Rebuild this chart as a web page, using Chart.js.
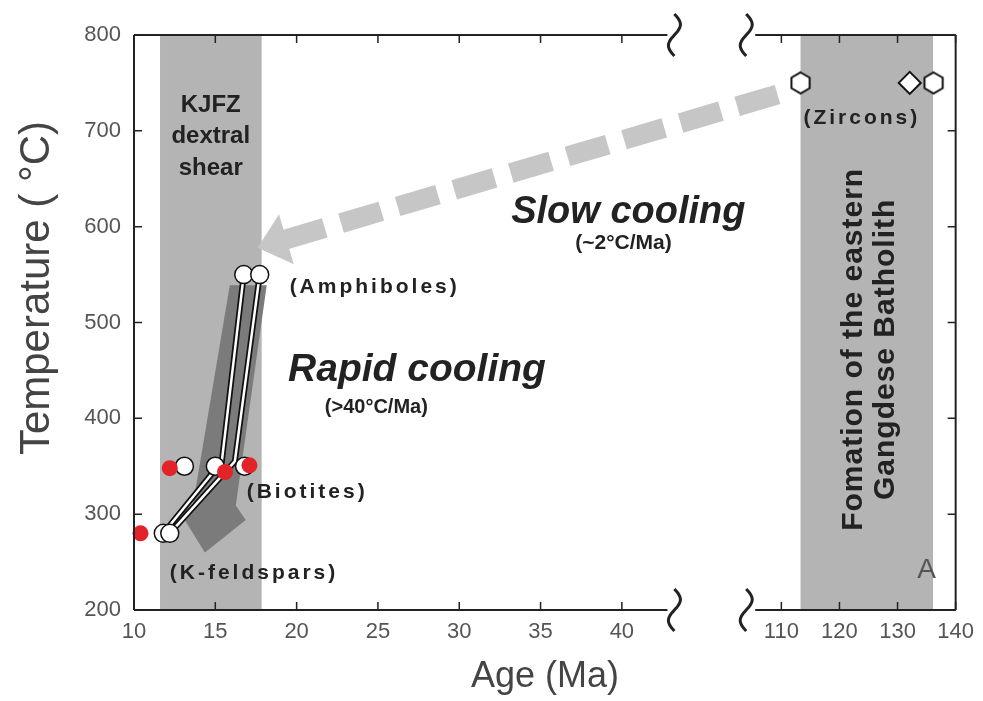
<!DOCTYPE html>
<html>
<head>
<meta charset="utf-8">
<script src="https://cdn.jsdelivr.net/npm/chart.js@4.4.1/dist/chart.umd.min.js"></script>
<style>
  html, body { margin: 0; padding: 0; background: #fff; }
  canvas { display: block; }
</style>
</head>
<body>
<canvas id="chart" width="983" height="701"></canvas>
<script>
// axis ticks
const yTicks = [200, 300, 400, 500, 600, 700, 800];
const xTicksLeft = [10, 15, 20, 25, 30, 35, 40];
const xTicksRight = [110, 120, 130, 140];

// broken age axis: left part 10..48.2, right part 105.5..140
const leftRange = [10, 48.2];
const rightRange = [105.5, 140];
const breakAge = 42.8;

// grey bands (Ma)
const kjfzBand = [11.6, 17.85];
const batholithBand = [113.3, 136.1];

// white circles (amphiboles, biotites, K-feldspars)
const whiteAge = [16.75, 17.73, 13.1, 15.0, 16.8, 11.8, 12.2];
const whiteTemp = [550, 550, 350, 350, 350, 280, 280];

// red dots
const redAge = [12.2, 15.6, 17.1, 10.4];
const redTemp = [348, 344, 351, 280];

// cooling paths
const pathAAge = [16.75, 15.4, 11.8];
const pathATemp = [550, 355, 280];
const pathBAge = [17.73, 16.2, 12.2];
const pathBTemp = [550, 355, 280];

// zircons
const zirconHexAge = [113.3, 136.2];
const zirconHexTemp = [750, 750];
const zirconDiaAge = [132.1];
const zirconDiaTemp = [750];

// rapid cooling arrow outline (Ma, °C)
const rapidAge = [15.89, 18.16, 16.26, 16.87, 14.36, 12.82, 13.62];
const rapidTemp = [539, 539, 309, 294, 260, 302, 309];

// slow cooling arrow: tip on left axis, tail on right axis
const slowTip = [17.6, 578];
const slowTail = [110.5, 740];

const FONT = '"Liberation Sans", Arial, sans-serif';

function pts(ages, temps) {
    return ages.map((a, i) => ({ x: a, y: temps[i] }));
}

function hexagon(r) {
    const c = document.createElement("canvas");
    const s = Math.ceil(r * 2 + 4);
    c.width = s;
    c.height = s;
    const g = c.getContext("2d");
    g.beginPath();
    for (let i = 0; i < 6; i++) {
        const a = -Math.PI / 2 + i * Math.PI / 3;
        const px = s / 2 + r * Math.cos(a);
        const py = s / 2 + r * Math.sin(a);
        if (i === 0) g.moveTo(px, py); else g.lineTo(px, py);
    }
    g.closePath();
    g.fillStyle = "#fff";
    g.fill();
    g.lineWidth = 2;
    g.strokeStyle = "#111";
    g.stroke();
    return c;
}

// text notes: [text, scale, age, temp, font, align, extra]
const notes = [
    ["KJFZ", "x", 14.72, 727, "bold 24px", "center"],
    ["dextral", "x", 14.72, 694, "bold 24px", "center"],
    ["shear", "x", 14.72, 661, "bold 24px", "center"],
    ["Slow cooling", "x", 40.4, 615, "italic bold 38px", "center"],
    ["(~2°C/Ma)", "x", 40.1, 583, "bold 21px", "center"],
    ["Rapid cooling", "x", 27.4, 450, "italic bold 39px", "center"],
    ["(>40°C/Ma)", "x", 24.9, 411, "bold 20px", "center"],
    ["(Amphiboles)", "x", 19.57, 537, "bold 21px", "left", { spacing: "3px" }],
    ["(Biotites)", "x", 16.93, 323, "bold 21px", "left", { spacing: "3px" }],
    ["(K-feldspars)", "x", 12.2, 238, "bold 21px", "left", { spacing: "3px" }],
    ["(Zircons)", "x2", 113.8, 713, "bold 21px", "left", { spacing: "3px" }],
    ["Fomation of the eastern", "x2", 122.4, 472, "bold 30px", "center", { rotate: true, spacing: "1px" }],
    ["Gangdese Batholith", "x2", 128.0, 472, "bold 30px", "center", { rotate: true, spacing: "1px" }],
    ["A", "x2", 135.0, 241, "28px", "center", { color: "#555" }]
];

function squiggle(ctx, cx, cy) {
    ctx.beginPath();
    for (let i = 0; i <= 30; i++) {
        const t = i / 30;
        const px = cx + 6 * Math.sin(2 * Math.PI * t);
        const py = cy - 21 + 42 * t;
        if (i === 0) ctx.moveTo(px, py); else ctx.lineTo(px, py);
    }
    ctx.stroke();
}

const decor = {
    id: "decor",
    beforeDatasetsDraw(chart) {
        const { ctx, chartArea: a, scales } = chart;
        const X = scales.x, X2 = scales.x2, Y = scales.y;
        ctx.save();
        // bands
        ctx.fillStyle = "#b4b4b4";
        ctx.fillRect(X.getPixelForValue(kjfzBand[0]), a.top,
            X.getPixelForValue(kjfzBand[1]) - X.getPixelForValue(kjfzBand[0]), a.bottom - a.top);
        ctx.fillRect(X2.getPixelForValue(batholithBand[0]), a.top,
            X2.getPixelForValue(batholithBand[1]) - X2.getPixelForValue(batholithBand[0]), a.bottom - a.top);

        // rapid cooling arrow
        ctx.fillStyle = "#7b7b7b";
        ctx.beginPath();
        rapidAge.forEach((v, i) => {
            const px = X.getPixelForValue(v), py = Y.getPixelForValue(rapidTemp[i]);
            if (i === 0) ctx.moveTo(px, py); else ctx.lineTo(px, py);
        });
        ctx.closePath();
        ctx.fill();

        // slow cooling arrow
        const tx = X.getPixelForValue(slowTip[0]), ty = Y.getPixelForValue(slowTip[1]);
        const ex = X2.getPixelForValue(slowTail[0]), ey = Y.getPixelForValue(slowTail[1]);
        const len = Math.hypot(ex - tx, ey - ty);
        const ux = (ex - tx) / len, uy = (ey - ty) / len;
        const nx = -uy, ny = ux;
        const hl = 30, hw = 26;
        const bx = tx + ux * hl, by = ty + uy * hl;
        ctx.fillStyle = "#c6c6c6";
        ctx.beginPath();
        ctx.moveTo(tx, ty);
        ctx.lineTo(bx + nx * hw, by + ny * hw);
        ctx.lineTo(bx - nx * hw, by - ny * hw);
        ctx.closePath();
        ctx.fill();
        ctx.strokeStyle = "#c6c6c6";
        ctx.lineWidth = 20;
        ctx.setLineDash([42, 17]);
        ctx.beginPath();
        ctx.moveTo(bx - ux * 2, by - uy * 2);
        ctx.lineTo(ex, ey);
        ctx.stroke();
        ctx.restore();
    },
    afterDraw(chart) {
        const { ctx, chartArea: a, scales } = chart;
        const X = scales.x, X2 = scales.x2, Y = scales.y;
        ctx.save();
        // frame
        ctx.strokeStyle = "#222";
        ctx.lineWidth = 2;
        const bL = X.getPixelForValue(breakAge);
        const bR = X2.left;
        ctx.beginPath();
        ctx.moveTo(a.left, a.top); ctx.lineTo(a.left, a.bottom);
        ctx.moveTo(a.right, a.top); ctx.lineTo(a.right, a.bottom);
        ctx.moveTo(a.left, a.bottom); ctx.lineTo(bL, a.bottom);
        ctx.moveTo(bR, a.bottom); ctx.lineTo(a.right, a.bottom);
        ctx.moveTo(a.left, a.top); ctx.lineTo(bL, a.top);
        ctx.moveTo(bR, a.top); ctx.lineTo(a.right, a.top);
        ctx.stroke();
        ctx.lineWidth = 3;
        squiggle(ctx, bL + 7, a.bottom);
        squiggle(ctx, bR - 9, a.bottom);
        squiggle(ctx, bL + 7, a.top);
        squiggle(ctx, bR - 9, a.top);

        // inward ticks
        ctx.lineWidth = 1.5;
        ctx.beginPath();
        yTicks.forEach(v => {
            const py = Y.getPixelForValue(v);
            ctx.moveTo(a.left, py); ctx.lineTo(a.left + 8, py);
            ctx.moveTo(a.right, py); ctx.lineTo(a.right - 8, py);
        });
        xTicksLeft.forEach(v => {
            const px = X.getPixelForValue(v);
            ctx.moveTo(px, a.bottom); ctx.lineTo(px, a.bottom - 8);
            ctx.moveTo(px, a.top); ctx.lineTo(px, a.top + 8);
        });
        xTicksRight.forEach(v => {
            const px = X2.getPixelForValue(v);
            ctx.moveTo(px, a.bottom); ctx.lineTo(px, a.bottom - 8);
            ctx.moveTo(px, a.top); ctx.lineTo(px, a.top + 8);
        });
        ctx.stroke();

        // notes
        ctx.textBaseline = "middle";
        notes.forEach(n => {
            const [text, sid, age, temp, font, align, extra = {}] = n;
            const px = scales[sid].getPixelForValue(age);
            const py = Y.getPixelForValue(temp);
            ctx.save();
            ctx.font = font + " " + FONT;
            ctx.fillStyle = extra.color || "#222";
            ctx.textAlign = align;
            ctx.letterSpacing = extra.spacing || "0px";
            ctx.translate(px, py);
            if (extra.rotate) ctx.rotate(-Math.PI / 2);
            ctx.fillText(text, 0, 0);
            ctx.restore();
        });

        // axis titles
        ctx.fillStyle = "#444";
        ctx.textAlign = "center";
        ctx.font = "36px " + FONT;
        ctx.fillText("Age (Ma)", 545, 677);
        ctx.save();
        ctx.translate(37, 288);
        ctx.rotate(-Math.PI / 2);
        ctx.font = "42px " + FONT;
        ctx.fillText("Temperature ( °C)", 0, 0);
        ctx.restore();
        ctx.restore();
    }
};

const tickFont = { family: FONT, size: 22 };

new Chart(document.getElementById("chart"), {
    type: "scatter",
    data: {
        datasets: [
            { type: "line", order: 9, data: pts(pathAAge, pathATemp), borderColor: "#111", borderWidth: 6, pointRadius: 0, fill: false },
            { type: "line", order: 8, data: pts(pathAAge, pathATemp), borderColor: "#fff", borderWidth: 2.5, pointRadius: 0, fill: false },
            { type: "line", order: 7, data: pts(pathBAge, pathBTemp), borderColor: "#111", borderWidth: 6, pointRadius: 0, fill: false },
            { type: "line", order: 6, data: pts(pathBAge, pathBTemp), borderColor: "#fff", borderWidth: 2.5, pointRadius: 0, fill: false },
            { order: 5, data: pts(whiteAge, whiteTemp), pointRadius: 9, backgroundColor: "#fff", borderColor: "#111", borderWidth: 1.5, clip: false },
            { order: 4, data: pts(redAge, redTemp), pointRadius: 8, backgroundColor: "#e2242a", borderWidth: 0, clip: false },
            { order: 3, data: pts(zirconHexAge, zirconHexTemp), xAxisID: "x2", pointStyle: hexagon(10.5), clip: false },
            { order: 2, data: pts(zirconDiaAge, zirconDiaTemp), xAxisID: "x2", pointStyle: "rectRot", pointRadius: 11, backgroundColor: "#fff", borderColor: "#111", borderWidth: 2, clip: false }
        ]
    },
    options: {
        responsive: false,
        animation: false,
        layout: { padding: { top: 35, right: 25, left: 0, bottom: 0 } },
        plugins: { legend: { display: false }, tooltip: { enabled: false } },
        scales: {
            x: {
                type: "linear", position: "bottom", stack: "age", stackWeight: 623,
                min: leftRange[0], max: leftRange[1],
                afterBuildTicks: s => { s.ticks = xTicksLeft.map(v => ({ value: v })); },
                afterFit: s => { s.height = 91; },
                grid: { display: false, drawTicks: false },
                border: { display: false },
                ticks: { font: tickFont, color: "#555", padding: 9, maxRotation: 0, autoSkip: false }
            },
            x2: {
                type: "linear", position: "bottom", stack: "age", stackWeight: 201,
                min: rightRange[0], max: rightRange[1],
                afterBuildTicks: s => { s.ticks = xTicksRight.map(v => ({ value: v })); },
                afterFit: s => { s.height = 91; },
                grid: { display: false, drawTicks: false },
                border: { display: false },
                ticks: { font: tickFont, color: "#555", padding: 9, maxRotation: 0, autoSkip: false }
            },
            y: {
                type: "linear", min: 200, max: 800,
                afterBuildTicks: s => { s.ticks = yTicks.map(v => ({ value: v })); },
                afterFit: s => { s.width = 134; },
                grid: { display: false, drawTicks: false },
                border: { display: false },
                ticks: { font: tickFont, color: "#555", padding: 13 }
            }
        }
    },
    plugins: [decor]
});
</script>
</body>
</html>
